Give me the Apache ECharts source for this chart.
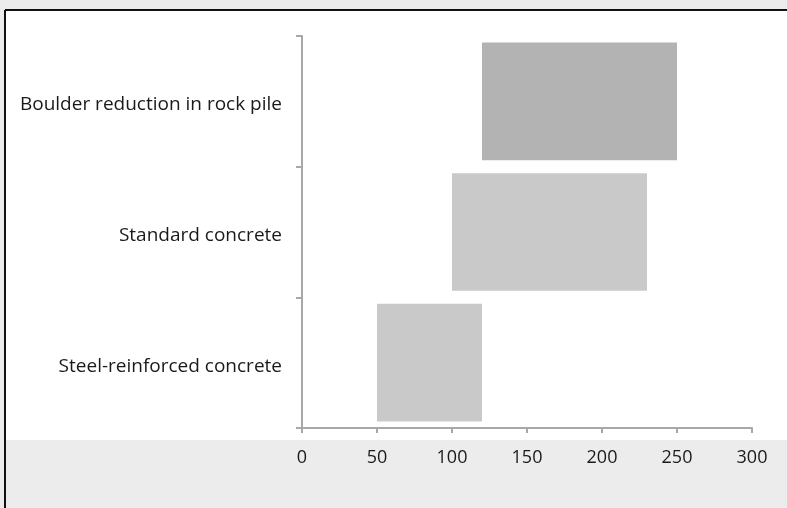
<!DOCTYPE html>
<html>
<head>
<meta charset="utf-8">
<script src="https://cdn.jsdelivr.net/npm/echarts@6/dist/echarts.min.js"></script>
<style>
html,body{margin:0;padding:0;background:#ebeceb;}
#chart{width:787px;height:508px;}
</style>
</head>
<body>
<div id="chart"></div>
<script>
var categories = ['Boulder reduction in rock pile', 'Standard concrete', 'Steel-reinforced concrete'];
var rangeStart = [120, 100, 50];
var rangeEnd = [250, 230, 120];
var barColors = ['#b3b3b3', '#c9c9c9', '#c9c9c9'];
var xTicks = [0, 50, 100, 150, 200, 250, 300];

var chart = echarts.init(document.getElementById('chart'));
var baseData = rangeStart.slice();
var spanData = rangeEnd.map(function (e, i) {
  return { value: e - rangeStart[i], itemStyle: { color: barColors[i] } };
});
chart.setOption({
  backgroundColor: '#ebeceb',
  animation: false,
  graphic: [
    { type: 'rect', shape: { x: 5, y: 10, width: 790, height: 430 }, style: { fill: '#ffffff' }, z: -10 },
    { type: 'line', shape: { x1: 5, y1: 10, x2: 5, y2: 508 }, style: { stroke: '#111111', lineWidth: 2 }, z: -9 },
    { type: 'line', shape: { x1: 5, y1: 10, x2: 787, y2: 10 }, style: { stroke: '#111111', lineWidth: 2 }, z: -9 }
  ],
  grid: { left: 302, right: 35, top: 36, bottom: 80 },
  xAxis: {
    type: 'value', min: xTicks[0], max: xTicks[xTicks.length - 1], interval: 50,
    splitLine: { show: false },
    axisLine: { show: true, lineStyle: { color: '#a8a8a8', width: 2 } },
    axisTick: { show: true, length: 5, lineStyle: { color: '#a8a8a8', width: 2 } },
    axisLabel: { color: '#1a1a1a', fontFamily: 'Open Sans', fontSize: 18, margin: 21 }
  },
  yAxis: {
    type: 'category', data: categories, inverse: true,
    axisLine: { show: true, lineStyle: { color: '#a8a8a8', width: 2 } },
    axisTick: { show: true, length: 6, lineStyle: { color: '#a8a8a8', width: 2 } },
    axisLabel: {
      margin: 20,
      formatter: function (v) { return '{a|' + v + '}'; },
      rich: { a: { color: '#1a1a1a', fontFamily: 'Open Sans', fontSize: 19, padding: [7, 0, 0, 0] } }
    }
  },
  series: [
    { type: 'bar', stack: 'r', data: baseData, itemStyle: { color: 'rgba(0,0,0,0)' }, barCategoryGap: '10%', silent: true },
    { type: 'bar', stack: 'r', data: spanData, barCategoryGap: '10%' }
  ]
});
</script>
</body>
</html>
